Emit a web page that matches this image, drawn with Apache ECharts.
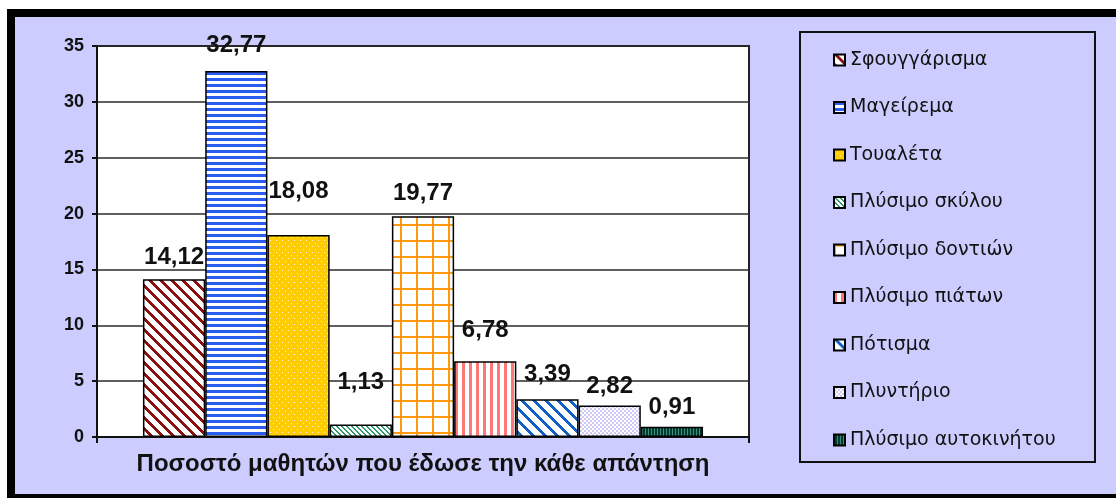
<!DOCTYPE html>
<html>
<head>
<meta charset="utf-8">
<script src="https://cdn.jsdelivr.net/npm/echarts@6/dist/echarts.min.js"></script>
<style>
  html, body { margin: 0; padding: 0; background: #ffffff; }
  #chart { width: 1116px; height: 498px; }
</style>
</head>
<body>
<div id="chart"></div>
<script>
// Household chores: share of pupils giving each answer (%)
const categories = [
  'Σφουγγάρισμα', 'Μαγείρεμα', 'Τουαλέτα', 'Πλύσιμο σκύλου', 'Πλύσιμο δοντιών',
  'Πλύσιμο πιάτων', 'Πότισμα', 'Πλυντήριο', 'Πλύσιμο αυτοκινήτου'
];
const percentages = [14.12, 32.77, 18.08, 1.13, 19.77, 6.78, 3.39, 2.82, 0.91];
const yMin = 0, yMax = 35, yStep = 5;
const axisTitle = 'Ποσοστό μαθητών που έδωσε την κάθε απάντηση';

// Gap between each value label and the top of its bar (px)
const labelLift = [10, 14, 32, 30, 11, 19, 13, 7, 7];

function rgb(hex) {
  const n = parseInt(hex.slice(1), 16);
  return [(n >> 16) & 255, (n >> 8) & 255, n & 255];
}

// Builds a repeating fill tile pixel by pixel
function makePattern(w, h, paint) {
  const c = document.createElement('canvas');
  c.width = w; c.height = h;
  const ctx = c.getContext('2d');
  const img = ctx.createImageData(w, h);
  for (let y = 0; y < h; y++) {
    for (let x = 0; x < w; x++) {
      const [r, g, b] = rgb(paint(x, y));
      const i = (y * w + x) * 4;
      img.data[i] = r; img.data[i + 1] = g; img.data[i + 2] = b; img.data[i + 3] = 255;
    }
  }
  ctx.putImageData(img, 0, 0);
  return { image: c, repeat: 'repeat' };
}

const W = '#ffffff';
const mod = (a, n) => ((a % n) + n) % n;

const fills = [
  // dark red diagonal stripes
  makePattern(11, 11, (x, y) => mod(x - y, 11) < 4 ? '#8c1010' : W),
  // blue horizontal stripes
  makePattern(6, 6, (x, y) => y < 3 ? '#2a5cf0' : W),
  // yellow with small white dots
  makePattern(6, 6, (x, y) => ((x === 0 && y === 0) || (x === 3 && y === 3)) ? '#fff6cc' : '#ffcc00'),
  // thin green diagonal stripes
  makePattern(5, 5, (x, y) => mod(x - y, 5) < 2 ? '#2f9a6a' : W),
  // orange grid
  makePattern(16, 16, (x, y) => (x < 2 || y < 2) ? '#ff9a10' : W),
  // salmon vertical stripes
  makePattern(7, 7, (x, y) => x < 3 ? '#ff7878' : W),
  // blue wide diagonal stripes
  makePattern(12, 12, (x, y) => mod(x - y, 12) < 4 ? '#1060c8' : W),
  // light lavender fine check
  makePattern(4, 4, (x, y) => ((x < 2) !== (y < 2)) ? '#cfc8f2' : W),
  // dark green with fine vertical lines
  makePattern(3, 3, (x, y) => x === 0 ? '#3a8f78' : '#003a32')
];

const series = categories.map((name, i) => ({
  name: name,
  type: 'bar',
  data: [percentages[i]],
  barGap: '0%',
  barCategoryGap: '14.1%',
  itemStyle: { color: fills[i], borderColor: '#000000', borderWidth: 1.5 },
  label: {
    show: true,
    position: 'top',
    distance: labelLift[i],
    formatter: p => p.value.toFixed(2).replace('.', ','),
    fontFamily: 'Liberation Sans, Arial, sans-serif',
    fontWeight: 'bold',
    fontSize: 24,
    color: '#111111'
  }
}));

const chart = echarts.init(document.getElementById('chart'), null, { renderer: 'canvas' });
chart.setOption({
  backgroundColor: '#ffffff',
  animation: false,
  graphic: [
    { type: 'rect', z: -20, silent: true, shape: { x: 7, y: 9, width: 1120, height: 500 }, style: { fill: '#000000' } },
    { type: 'rect', z: -19, silent: true, shape: { x: 15, y: 17, width: 1110, height: 477 }, style: { fill: '#ccccff' } },
    { type: 'rect', z: -18, silent: true, shape: { x: 800, y: 32, width: 295, height: 430 }, style: { fill: '#ccccff', stroke: '#111111', lineWidth: 2 } }
  ],
  grid: {
    left: 97, right: 367, top: 46, bottom: 61,
    show: true, backgroundColor: '#ffffff', borderColor: '#222222', borderWidth: 2
  },
  legend: {
    orient: 'vertical',
    left: 828, top: 45,
    icon: 'rect',
    itemWidth: 11, itemHeight: 11,
    itemGap: 27.5,
    selectedMode: false,
    textStyle: {
      fontFamily: 'DejaVu Sans, sans-serif',
      fontSize: 19,
      lineHeight: 20,
      color: '#111111'
    },
    data: categories
  },
  xAxis: {
    type: 'category',
    data: [''],
    axisLine: { lineStyle: { color: '#111111', width: 2 } },
    axisTick: { show: true, length: 6, lineStyle: { color: '#111111', width: 2 } },
    axisLabel: { show: false },
    name: axisTitle,
    nameLocation: 'middle',
    nameGap: 15,
    nameTextStyle: {
      fontFamily: 'Liberation Sans, Arial, sans-serif',
      fontWeight: 'bold',
      fontSize: 24,
      color: '#111111',
      verticalAlign: 'top'
    }
  },
  yAxis: {
    type: 'value',
    min: yMin, max: yMax, interval: yStep,
    axisLine: { show: true, lineStyle: { color: '#111111', width: 2 } },
    axisTick: { show: true, length: 5, lineStyle: { color: '#111111', width: 2 } },
    axisLabel: {
      margin: 13,
      fontFamily: 'Liberation Sans, Arial, sans-serif',
      fontWeight: 'bold',
      fontSize: 18,
      color: '#111111'
    },
    splitLine: { lineStyle: { color: '#2a2a2a', width: 1.5 } }
  },
  series: series
});
</script>
</body>
</html>
